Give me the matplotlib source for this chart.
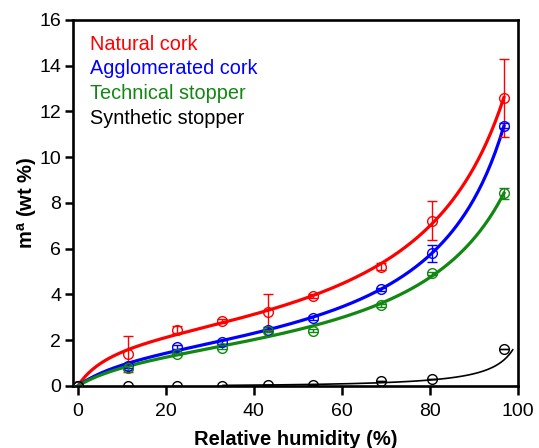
import numpy as np
import matplotlib
matplotlib.use("Agg")
import matplotlib.pyplot as plt

plt.rcParams['font.family'] = ['Liberation Sans', 'DejaVu Sans']
plt.rcParams['mathtext.fontset'] = 'custom'
plt.rcParams['mathtext.rm'] = 'Liberation Sans'
plt.rcParams['mathtext.bf'] = 'Liberation Sans:bold'

# relative humidity of the salt solutions (%)
rh = [0, 11.3, 22.5, 32.8, 43.2, 53.5, 68.8, 80.5, 96.8]

names = ['Natural cork', 'Agglomerated cork', 'Technical stopper', 'Synthetic stopper']
colors = ['#ff0000', '#0000ff', '#118811', '#000000']

natural = [0, 1.40, 2.46, 2.85, 3.22, 3.92, 5.22, 7.22, 12.6]
natural_err = [0, 0.78, 0.15, 0.10, 0.80, 0.08, 0.14, 0.85, 1.70]
agglo = [0, 0.88, 1.71, 1.93, 2.46, 2.98, 4.22, 5.80, 11.38]
agglo_err = [0, 0.10, 0.10, 0.08, 0.10, 0.08, 0.08, 0.36, 0.12]
technical = [0, 0.80, 1.40, 1.68, 2.40, 2.42, 3.52, 4.92, 8.42]
technical_err = [0, 0.08, 0.06, 0.06, 0.06, 0.05, 0.05, 0.05, 0.24]
synthetic = [0, 0.02, 0.02, 0.02, 0.03, 0.03, 0.22, 0.30, 1.60]
synthetic_err = [0, 0, 0, 0, 0, 0, 0, 0, 0]

series = [natural, agglo, technical, synthetic]
errors = [natural_err, agglo_err, technical_err, synthetic_err]
# range of each fitted curve (%)
curve_range = [(0, 96.8), (0, 96.8), (0, 96.8), (33, 98.8)]
# GAB parameters (m0, C, K) of the synthetic stopper curve as drawn
synthetic_gab = (0.1, 0.5, 0.955)


def gab(aw, m0, c, k):
    return m0 * c * k * aw / ((1 - k * aw) * (1 - k * aw + c * k * aw))


def fit_gab(x, y):
    # crude grid search, m0 solved by least squares
    aw = np.array(x) / 100.0
    m = np.array(y)
    best = None
    for k in np.linspace(0.5, 0.995, 200):
        for c in np.logspace(-1.5, 3, 200):
            f = gab(aw, 1.0, c, k)
            m0 = np.dot(f, m) / np.dot(f, f)
            r = np.sum((m0 * f - m) ** 2)
            if best is None or r < best[0]:
                best = (r, m0, c, k)
    return best[1:]


fig = plt.figure(figsize=(5.39, 4.48), dpi=100)
ax = fig.add_axes([0.1354, 0.1384, 0.8256, 0.8170])

for vals, err, col, rng in zip(series, errors, colors, curve_range):
    if vals is synthetic:
        m0, c, k = synthetic_gab
        lw = 1.2
    else:
        m0, c, k = fit_gab(rh, vals)
        lw = 2.3
    xs = np.linspace(rng[0], rng[1], 200)
    ax.plot(xs, gab(xs / 100.0, m0, c, k), color=col, lw=lw, zorder=2)
    ax.errorbar(rh, vals, yerr=err, fmt='o', mfc='none', mec=col, ecolor=col,
                ms=7, mew=1.0, elinewidth=1.0, capsize=3.5, capthick=1.6, zorder=3)

for i, (name, col) in enumerate(zip(names, colors)):
    ax.text(0.038, 0.934 - i * 0.0675, name, color=col, fontsize=14.3,
            transform=ax.transAxes, va='center', ha='left')

ax.set_xlim(-1.1, 100)
ax.set_ylim(0, 16)
ax.set_xticks([0, 20, 40, 60, 80, 100])
ax.set_yticks(range(0, 17, 2))
ax.tick_params(direction='out', length=5.5, width=1.8, labelsize=14, pad=3)
ax.tick_params(axis='x', length=6.5, pad=6)
for sp in ax.spines.values():
    sp.set_linewidth(1.9)
ax.set_xlabel('Relative humidity (%)', fontsize=14.5, fontweight='bold', labelpad=7)
ax.set_ylabel(r'm$^{\mathbf{a}}$ (wt %)', fontsize=14.5, fontweight='bold', labelpad=0)

fig.savefig('out.png', dpi=100)
